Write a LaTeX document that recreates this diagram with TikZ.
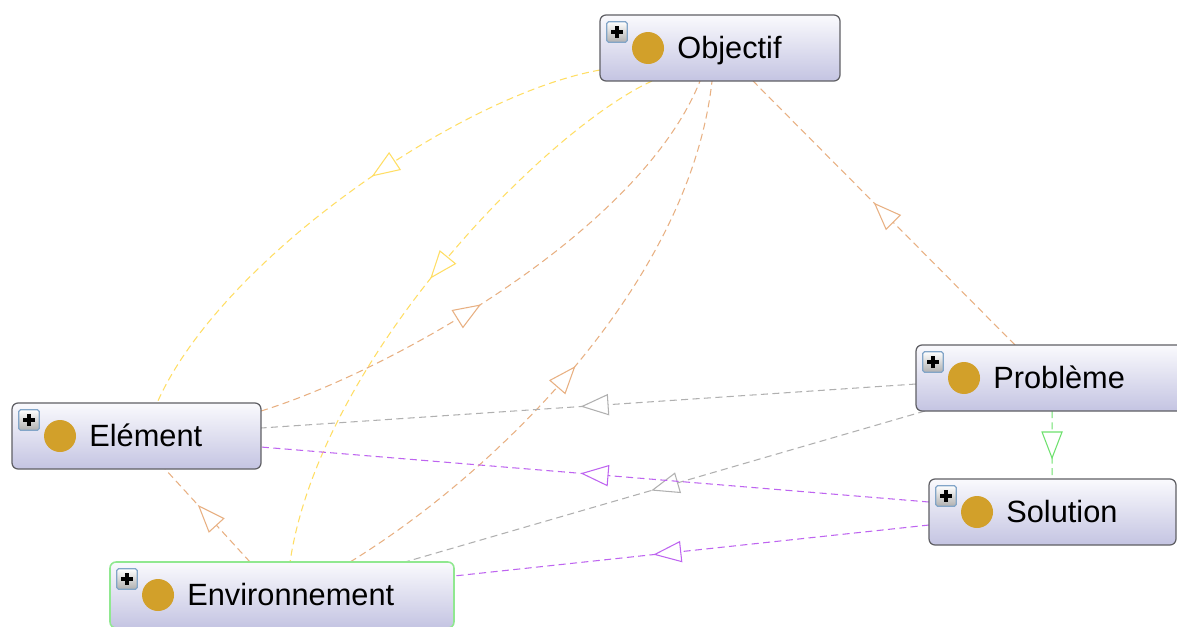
\documentclass[tikz,border=0pt]{standalone}
\usepackage{fontspec}
\setmainfont{Liberation Sans}
\usetikzlibrary{calc,decorations.markings,shadings}
\pgfdeclarelayer{bg}
\pgfdeclarelayer{edges}
\pgfsetlayers{bg,edges,main}
\definecolor{ylw}{RGB}{255,222,100}
\definecolor{org}{RGB}{232,176,130}
\definecolor{gry}{RGB}{176,176,176}
\definecolor{prp}{RGB}{190,100,240}
\definecolor{grn}{RGB}{110,225,110}
\definecolor{boxtop}{RGB}{250,250,253}
\definecolor{boxbot}{RGB}{196,196,226}
\definecolor{boxline}{RGB}{95,95,100}
\definecolor{envline}{RGB}{144,232,144}
\definecolor{gold}{RGB}{210,160,42}
\definecolor{iconline}{RGB}{130,165,200}
\definecolor{iconbot}{RGB}{175,175,175}
\tikzset{
  cls/.style={draw=boxline, line width=0.7pt, rounded corners=0.12cm,
    top color=boxtop, bottom color=boxbot, inner sep=0pt, outer sep=0pt,
    minimum height=1.32cm},
  plusbox/.style={draw=iconline, line width=0.7pt, top color=white, bottom color=iconbot,
    minimum size=0.41cm, inner sep=0pt, rounded corners=1pt},
  plussign/.style={line width=1.8pt, black},
  dot/.style={circle, fill=gold, minimum size=0.64cm, inner sep=0pt},
  lbl/.style={anchor=base west, inner sep=0pt, font=\fontsize{17.5}{20}\selectfont},
  link/.style 2 args={draw=#1, line width=0.6pt, dash pattern=on 4pt off 2.5pt,
    postaction={decorate},
    decoration={markings, mark=at position #2 with {
      \draw[#1, solid, line width=0.6pt, fill=white]
        (0.26cm,0pt) -- (-0.26cm,0.2cm) -- (-0.26cm,-0.2cm) -- cycle;}}}
}
\newcommand\ontodeco[2]{%
  \node[plusbox] (#1-p) at ($(#1.north west)+(17,17)$) {};
  \draw[plussign] ($(#1-p.center)+(-6,0)$) -- ($(#1-p.center)+(6,0)$)
                  ($(#1-p.center)+(0,-6)$) -- ($(#1-p.center)+(0,6)$);
  \node[dot] (#1-d) at ($(#1.west)+(48,0)$) {};
  \node[lbl] (#1-t) at ($(#1.west)+(77,10.5)$) {#2};
}
\begin{document}
\begin{tikzpicture}[x=0.02cm, y=-0.02cm]
\begin{pgfonlayer}{bg}
\fill[white] (0,0) rectangle (1177,626);
\end{pgfonlayer}
\useasboundingbox (0,0) rectangle (1177,626);
\clip (0,0) rectangle (1177,626);

% nodes
\node[cls, minimum width=4.8cm] (obj) at (720,48) {};
\ontodeco{obj}{Objectif}
\node[cls, minimum width=5.48cm] (prob) at (1053,378) {};
\ontodeco{prob}{Problème}
\node[cls, minimum width=4.98cm] (elem) at (136.5,436) {};
\ontodeco{elem}{Elément}
\node[cls, minimum width=4.94cm] (sol) at (1052.5,512) {};
\ontodeco{sol}{Solution}
\node[cls, draw=envline, line width=0.9pt, minimum width=6.88cm] (env) at (282,595) {};
\ontodeco{env}{Environnement}

% connectors
\begin{pgfonlayer}{edges}
\draw[link={ylw}{0.42}] ($(obj.south west)+(0,-11)$)
   .. controls (460,95) and (220,260) .. ($(elem.north west)+(145,0)$);
\draw[link={ylw}{0.46}] ($(obj.south west)+(52,0)$)
   .. controls (545,130) and (320,360) .. ($(env.north west)+(180,0)$);
\draw[link={org}{0.41}] ($(elem.north east)+(0,8)$)
   .. controls (391,371) and (640,231) .. ($(obj.south west)+(100,0)$);
\draw[link={org}{0.46}] ($(env.north west)+(240,0)$)
   .. controls (500,470) and (690,280) .. ($(obj.south west)+(112,0)$);
\draw[link={org}{0.5}] ($(prob.north west)+(99,0)$) -- ($(obj.south west)+(153,0)$);
\draw[link={org}{0.5}] ($(env.north west)+(140,0)$) -- ($(elem.south west)+(153,0)$);
\draw[link={gry}{0.49}] ($(prob.north west)+(0,39)$) -- ($(elem.north east)+(0,25)$);
\draw[link={gry}{0.5}] ($(prob.south west)+(9,0)$) -- ($(env.north west)+(295,0)$);
\draw[link={prp}{0.5}] ($(sol.north west)+(0,23)$) -- ($(elem.north east)+(0,44)$);
\draw[link={prp}{0.55}] ($(sol.north west)+(0,46)$) -- ($(env.north east)+(0,14)$);
\draw[link={grn}{0.5}] ($(prob.south west)+(136,0)$) -- ($(sol.north west)+(123,0)$);
\end{pgfonlayer}
\end{tikzpicture}
\end{document}
